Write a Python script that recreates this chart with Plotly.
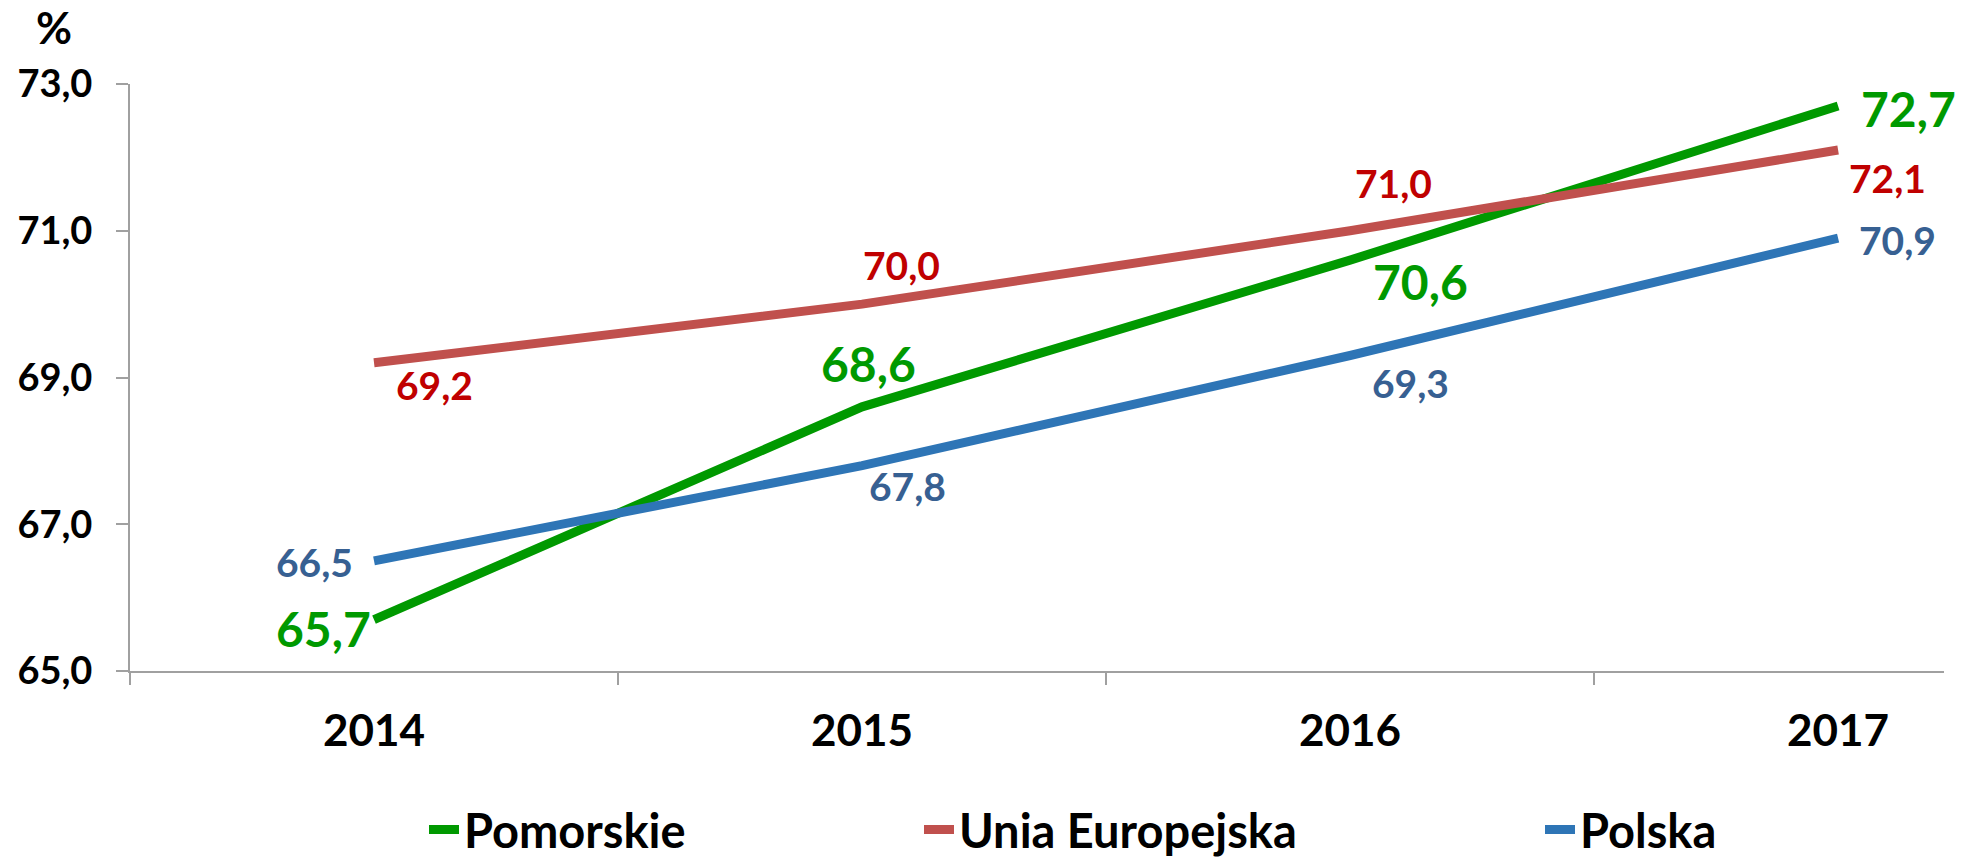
import plotly.graph_objects as go

years = ["2014", "2015", "2016", "2017"]
pomorskie = [65.7, 68.6, 70.6, 72.7]
unia = [69.2, 70.0, 71.0, 72.1]
polska = [66.5, 67.8, 69.3, 70.9]
y_ticks = [65, 67, 69, 71, 73]
y_tick_labels = ["65,0", "67,0", "69,0", "71,0", "73,0"]

FONT = "Lato"

series = [
    dict(name="Pomorskie", values=pomorskie, line="#009900", text="#009900", size=48,
         offsets=[(-51, 9), (6, -43), (70, 21), (70, 2)], legend="legend", lx=467),
    dict(name="Unia Europejska", values=unia, line="#C0504D", text="#C00000", size=39,
         offsets=[(60, 22), (39, -39), (43, -48), (49, 28)], legend="legend2", lx=962),
    dict(name="Polska", values=polska, line="#2E75B6", text="#376092", size=39,
         offsets=[(-60, 1), (45, 20), (60, 28), (59, 2)], legend="legend3", lx=1583),
]

W, H = 1967, 858
ML, MR, MT, MB = 130, 23, 84, 187

def fmt(v):
    return f"{v:.1f}".replace(".", ",")

fig = go.Figure()
annotations = []
legends = {}
for s in series:
    fig.add_trace(go.Scatter(
        x=years, y=s["values"], mode="lines", name=s["name"],
        line=dict(color=s["line"], width=9), legend=s["legend"],
        hoverinfo="skip",
    ))
    for i, (v, (dx, dy)) in enumerate(zip(s["values"], s["offsets"])):
        annotations.append(dict(
            x=i, y=v, xref="x", yref="y", text=fmt(v), showarrow=False,
            xshift=dx, yshift=-dy, xanchor="center", yanchor="middle",
            font=dict(family=FONT, size=s["size"], color=s["text"], weight="bold"),
        ))
    legends[s["legend"]] = dict(
        xref="container", yref="container",
        x=(s["lx"] - 43) / W, y=1 - 830 / H,
        xanchor="left", yanchor="middle", orientation="h",
        bgcolor="rgba(0,0,0,0)",
        font=dict(family=FONT, size=47, color="#000000", weight="bold"),
    )

pw, ph = W - ML - MR, H - MT - MB
annotations.append(dict(
    x=(54 - ML) / pw, y=(H - MB - 27) / ph, xref="paper", yref="paper",
    text="%", showarrow=False, xanchor="center", yanchor="middle",
    font=dict(family=FONT, size=44, color="#000000", weight="bold"),
))

fig.update_layout(
    width=W, height=H,
    margin=dict(l=ML, r=MR, t=MT, b=MB, autoexpand=False),
    plot_bgcolor="white", paper_bgcolor="white",
    annotations=annotations,
    showlegend=True,
    **legends,
)

fig.update_xaxes(
    type="category", range=[-0.5, 3.217], tickson="boundaries",
    showline=True, linecolor="#A0A0A0", linewidth=2,
    ticks="outside", ticklen=12, tickcolor="#A0A0A0", tickwidth=2,
    showgrid=False, zeroline=False, automargin=False,
    tickfont=dict(family=FONT, size=44, color="#000000", weight="bold"),
    ticklabelstandoff=20,
)
fig.update_yaxes(
    range=[65, 73], tickvals=y_ticks, ticktext=y_tick_labels,
    showline=True, linecolor="#A0A0A0", linewidth=2,
    ticks="outside", ticklen=12, tickcolor="#A0A0A0", tickwidth=2,
    showgrid=False, zeroline=False, automargin=False,
    tickfont=dict(family=FONT, size=38, color="#000000", weight="bold"),
    ticklabelstandoff=16,
)

fig.write_html("out.html", config={"displayModeBar": False},
               post_script="document.body.style.margin='0';")
